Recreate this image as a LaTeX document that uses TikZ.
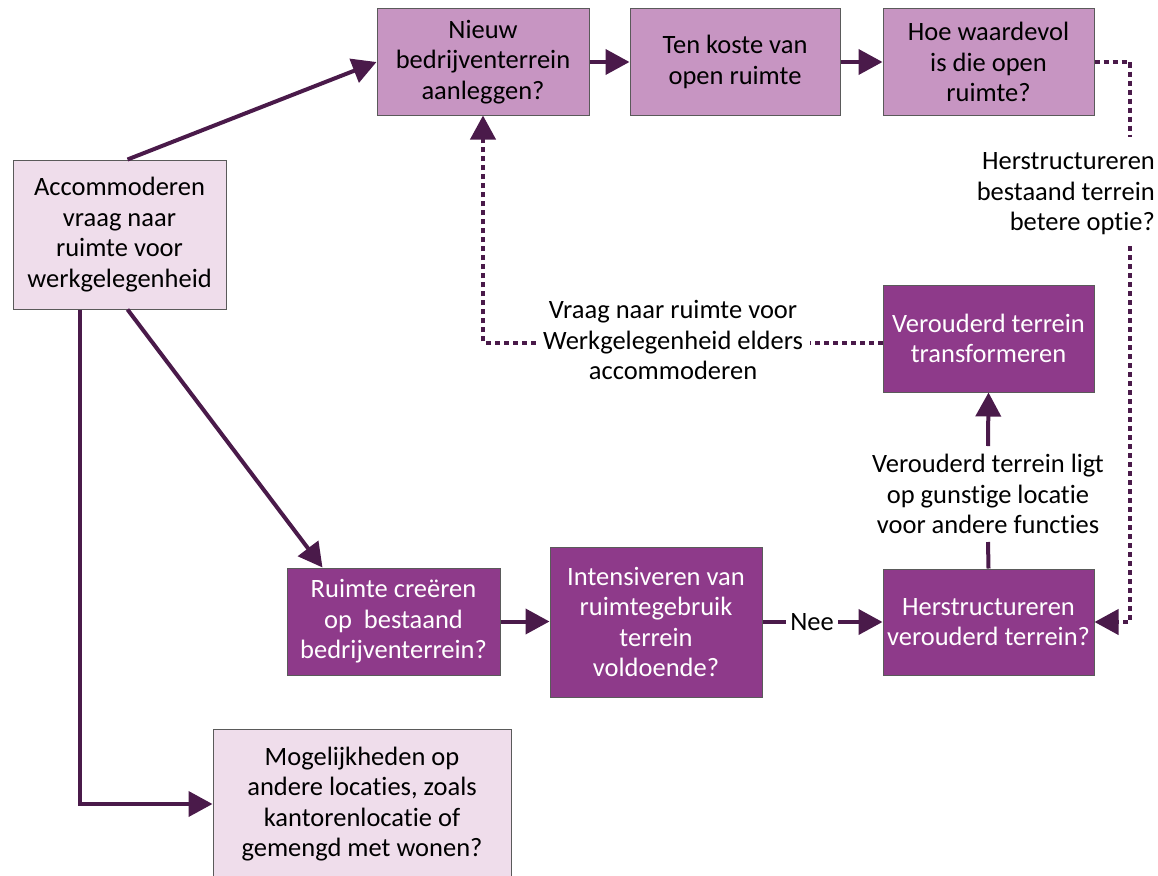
\documentclass[tikz,border=0pt]{standalone}
\usepackage{fontspec}
\setmainfont{Carlito}[Ligatures={NoCommon}]
\usetikzlibrary{arrows.meta,calc}
\definecolor{midbox}{HTML}{C795C2}
\definecolor{darkbox}{HTML}{8E3A8A}
\definecolor{lightbox}{HTML}{EFDDEB}
\definecolor{arrowc}{HTML}{4A1A4A}
\definecolor{edgec}{HTML}{5A5A5A}
\tikzset{
  box/.style={draw=edgec, line width=1pt, align=center, inner sep=2pt,
    font=\fontsize{26.5}{30.5}\selectfont},
  lightnode/.style={box, fill=lightbox, text=black},
  midnode/.style={box, fill=midbox, text=black},
  darknode/.style={box, fill=darkbox, text=white},
  lbl/.style={align=center, font=\fontsize{26.5}{30.5}\selectfont, text=black},
  conn/.style={draw=arrowc, line width=4pt},
  arr/.style={conn, -{Triangle[length=24pt,width=25pt]}},
  dotl/.style={conn, dash pattern=on 5pt off 4pt},
}
\begin{document}
\begin{tikzpicture}[x=1pt,y=-1pt]
\useasboundingbox (0,0) rectangle (1158,875);
\clip (0,0) rectangle (1158,875);
\node[lightnode, minimum width=213pt, minimum height=149pt] (acc) at (119.5,234.5) {Accommoderen\\vraag naar\\ruimte voor\\werkgelegenheid};
\node[midnode, minimum width=212pt, minimum height=106pt] (nieuw) at (483,62) {Nieuw\\bedrijventerrein\\aanleggen?};
\node[midnode, minimum width=210pt, minimum height=106pt] (kosten) at (735,62) {Ten koste van\\open ruimte};
\node[midnode, minimum width=211pt, minimum height=106pt] (hoe) at (988.5,62) {Hoe waardevol\\is die open\\ruimte?};
\node[darknode, minimum width=211pt, minimum height=107pt] (trans) at (988.5,338.5) {Verouderd terrein\\transformeren};
\node[darknode, minimum width=211pt, minimum height=106pt] (herstr) at (988.5,622) {Herstructureren\\verouderd terrein?};
\node[darknode, minimum width=213pt, minimum height=107pt] (ruimte) at (393.5,621.5) {Ruimte creëren\\op\ \ bestaand\\bedrijventerrein?};
\node[darknode, minimum width=212pt, minimum height=150pt] (intens) at (656,622) {Intensiveren van\\ruimtegebruik\\terrein\\voldoende?};
\node[lightnode, minimum width=298pt, minimum height=150pt] (mog) at (362,804) {Mogelijkheden op\\andere locaties, zoals\\kantorenlocatie of\\gemengd met wonen?};

\node[lbl, align=right, anchor=east, inner sep=2pt] (herstlab) at (1157,194) {Herstructureren\\bestaand terrein\\betere optie?};
\node[lbl, inner sep=7pt] (vraaglab) at (673,340) {Vraag naar ruimte voor\\Werkgelegenheid elders\\accommoderen};
\node[lbl, inner sep=8pt] (veroudlab) at (988,494) {Verouderd terrein ligt\\op gunstige locatie\\voor andere functies};
\node[lbl, inner sep=4pt] (nee) at (812,622) {Nee};

\coordinate (d1) at (1130,137);
\coordinate (d2) at (1130,246);
\coordinate (t1) at ($(trans.west)+(0,4)$);
\coordinate (t2) at (t1 -| vraaglab.east);
\coordinate (t3) at (t1 -| vraaglab.west);

\draw[arr] ([xshift=8pt]acc.north) -- (nieuw.west);
\draw[arr] ([xshift=8pt]acc.south) -- ([xshift=-71pt]ruimte.north);
\draw[arr] ([xshift=-40pt]acc.south) |- (mog.west);
\draw[arr] (nieuw.east) -- (kosten.west);
\draw[arr] (kosten.east) -- (hoe.west);
\draw[dotl] (hoe.east) -| (d1);
\draw[dotl, -{Triangle[length=24pt,width=25pt]}] (d2) |- (herstr.east);
\draw[dotl] (t1) -- (t2);
\draw[dotl, -{Triangle[length=24pt,width=25pt]}] (t3) -| (nieuw.south);
\draw[arr] (ruimte.east) -- (ruimte.east -| intens.west);
\draw[conn] (intens.east) -- (nee.west);
\draw[arr] (nee.east) -- (herstr.west);
\draw[conn] (herstr.north) -- (veroudlab.south);
\draw[arr] (veroudlab.north) -- (trans.south);
\end{tikzpicture}
\end{document}
